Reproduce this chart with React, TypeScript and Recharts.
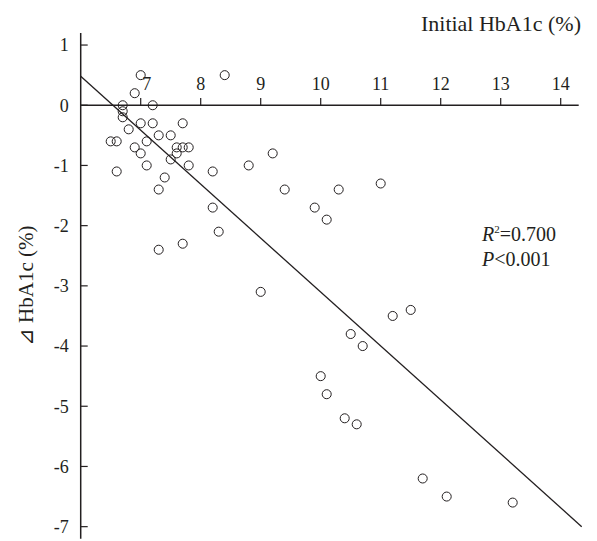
import React from 'react';
import { ScatterChart, Scatter, XAxis, YAxis, ZAxis, ReferenceLine } from 'recharts';

const initialHbA1c = [
  7.0, 8.4, 6.9, 6.7, 7.2, 6.7, 6.7, 7.0, 7.2, 7.7, 6.8, 7.3, 7.5, 6.5, 6.6, 7.1,
  6.9, 7.6, 7.7, 7.8, 7.0, 7.6, 9.2, 7.5, 7.1, 7.8, 8.8, 6.6, 8.2, 7.4, 11.0, 7.3,
  9.4, 10.3, 8.2, 9.9, 10.1, 8.3, 7.7, 7.3, 9.0, 11.5, 11.2, 10.5, 10.7, 10.0, 10.1,
  10.4, 10.6, 11.7, 12.1, 13.2,
];
const deltaHbA1c = [
  0.5, 0.5, 0.2, 0.0, 0.0, -0.1, -0.2, -0.3, -0.3, -0.3, -0.4, -0.5, -0.5, -0.6, -0.6, -0.6,
  -0.7, -0.7, -0.7, -0.7, -0.8, -0.8, -0.8, -0.9, -1.0, -1.0, -1.0, -1.1, -1.1, -1.2, -1.3, -1.4,
  -1.4, -1.4, -1.7, -1.7, -1.9, -2.1, -2.3, -2.4, -3.1, -3.4, -3.5, -3.8, -4.0, -4.5, -4.8,
  -5.2, -5.3, -6.2, -6.5, -6.6,
];
const xTicks = [7, 8, 9, 10, 11, 12, 13, 14];
const yTicks = [1, 0, -1, -2, -3, -4, -5, -6, -7];
const regressionX = [6, 14.35];
const regressionY = [0.48, -7.0];
const xLabel = 'Initial HbA1c (%)';
const yLabel = '⊿ HbA1c (%)';
const r2Text = '0.700';
const pText = '0.001';

const points = initialHbA1c.map((x, i) => ({ x, y: deltaHbA1c[i] }));

const FONT = '"Liberation Serif", "Times New Roman", serif';
const INK = '#231f20';
const X_TICK_LEN = 0.12;

export default function App() {
  return (
    <div style={{ position: 'absolute', left: 0, top: 0, width: 597, height: 541, background: '#fff' }}>
      <ScatterChart width={597} height={541} margin={{ top: 33, right: 18.3, bottom: 2.3, left: 20.7 }}>
        <XAxis type="number" dataKey="x" domain={[6, 14.3]} hide allowDataOverflow />
        <YAxis
          type="number"
          dataKey="y"
          domain={[-7.2, 1.2]}
          ticks={yTicks}
          interval={0}
          width={60}
          tickSize={-7}
          tickMargin={19}
          allowDataOverflow
          axisLine={{ stroke: INK, strokeWidth: 1.5 }}
          tickLine={{ stroke: INK, strokeWidth: 1.2 }}
          tick={{ fill: INK, fontSize: 18, fontFamily: FONT }}
          label={{
            value: yLabel,
            angle: -90,
            position: 'insideLeft',
            offset: 5,
            style: { textAnchor: 'middle', fontSize: 21, fontFamily: FONT, fill: INK },
          }}
        />
        <ZAxis range={[28, 28]} />
        <ReferenceLine y={0} stroke={INK} strokeWidth={1.5} />
        {xTicks.map((t, i) => (
          <ReferenceLine
            key={t}
            segment={[{ x: t, y: 0 }, { x: t, y: X_TICK_LEN }]}
            stroke={INK}
            strokeWidth={1.2}
            label={{
              value: String(t),
              position: 'top',
              offset: 8,
              dx: i === 0 ? 6 : 0,
              fontSize: 18,
              fontFamily: FONT,
              fill: INK,
            }}
          />
        ))}
        <ReferenceLine
          segment={[{ x: regressionX[0], y: regressionY[0] }, { x: regressionX[1], y: regressionY[1] }]}
          stroke={INK}
          strokeWidth={1.3}
          ifOverflow="visible"
        />
        <Scatter data={points} fill="none" stroke={INK} strokeWidth={1} isAnimationActive={false} />
      </ScatterChart>
      <svg width={597} height={541} style={{ position: 'absolute', left: 0, top: 0, pointerEvents: 'none' }}>
        <text x={581} y={31} textAnchor="end" fontSize={22} fontFamily={FONT} fill={INK}>{xLabel}</text>
        <text x={482} y={241} fontSize={20} fontFamily={FONT} fill={INK}>
          <tspan fontStyle="italic">R</tspan>
          <tspan dy={-8} fontSize={11}>2</tspan>
          <tspan dy={8}>={r2Text}</tspan>
        </text>
        <text x={482} y={266} fontSize={20} fontFamily={FONT} fill={INK}>
          <tspan fontStyle="italic">P</tspan>
          <tspan>{'<'}{pText}</tspan>
        </text>
      </svg>
    </div>
  );
}
